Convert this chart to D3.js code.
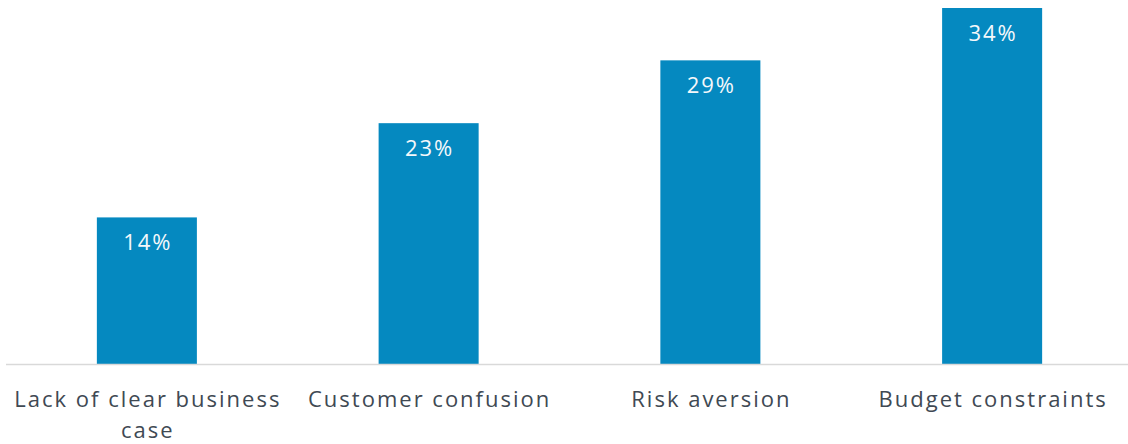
<!DOCTYPE html>
<html><head><meta charset="utf-8">
<script src="https://cdn.jsdelivr.net/npm/d3@7"></script>
<style>html,body{margin:0;padding:0;background:#fff;}svg{display:block;}</style>
</head><body>
<svg id="chart" width="1128" height="444"></svg>
<script>
const categories = ["Lack of clear business case", "Customer confusion", "Risk aversion", "Budget constraints"];
const values = [14, 23, 29, 34];
const valueLabels = ["14%", "23%", "29%", "34%"];

const W = 1128, H = 444;
const baseY = 364;
const svg = d3.select("#chart");
const x = d3.scaleBand().domain(categories).range([6, 1133]).paddingInner(0.645).paddingOuter(0.3225);
const y = d3.scaleLinear().domain([0, 34]).range([baseY, 8]);
const font = "'Open Sans', sans-serif";

svg.selectAll("rect.bar").data(categories).join("rect")
  .attr("class","bar")
  .attr("x", d => x(d)).attr("width", x.bandwidth())
  .attr("y", (d,i) => y(values[i])).attr("height", (d,i) => baseY - y(values[i]))
  .attr("fill", "#0589c0");

svg.append("line").attr("x1", 6).attr("x2", W).attr("y1", baseY + 0.5).attr("y2", baseY + 0.5)
  .attr("stroke", "#d9d9d9").attr("stroke-width", 1.5);

svg.selectAll("text.val").data(categories).join("text")
  .attr("class","val")
  .attr("x", d => x(d) + x.bandwidth()/2 + 1)
  .attr("y", (d,i) => y(values[i]) + 33)
  .attr("text-anchor","middle").attr("fill","#f4f8fb")
  .attr("font-family", font).attr("font-size", 22).attr("letter-spacing", 2)
  .text((d,i) => valueLabels[i]);

const xAxis = d3.axisBottom(x).tickSize(0).tickPadding(0);
const g = svg.append("g").attr("transform", `translate(0,${baseY})`).call(xAxis);
g.select(".domain").remove();
g.selectAll("text").attr("font-family", font).attr("font-size", 22).attr("letter-spacing", 2).attr("fill", "#404953")
  .attr("dy", null).attr("y", 0)
  .each(function(d){
    const t = d3.select(this);
    const words = d.split(" ");
    t.text(null);
    let line = [], lineNo = 0;
    let tspan = t.append("tspan").attr("x", 1).attr("y", 43);
    for (const w of words) {
      line.push(w);
      tspan.text(line.join(" "));
      if (tspan.node().getComputedTextLength() > 275 && line.length > 1) {
        line.pop(); tspan.text(line.join(" "));
        line = [w]; lineNo++;
        tspan = t.append("tspan").attr("x", 1).attr("y", 43 + lineNo*31).text(w);
      }
    }
  });
</script>
</body></html>
